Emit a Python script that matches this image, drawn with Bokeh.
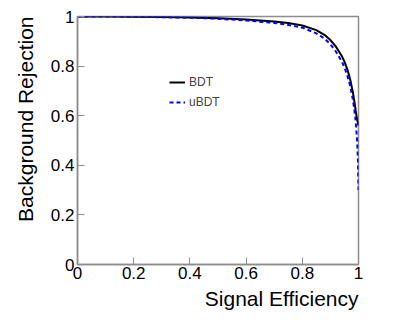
from bokeh.plotting import figure
from bokeh.models import Legend, LegendItem, Title, FixedTicker, Range1d
from bokeh.embed import file_html
from bokeh.resources import INLINE

sig_eff = [0.0, 0.1, 0.2, 0.3, 0.4, 0.5, 0.6, 0.7, 0.75, 0.8, 0.85, 0.88, 0.9, 0.92,
           0.94, 0.95, 0.96, 0.97, 0.98, 0.985, 0.99, 0.995, 0.998, 1.0]
bdt_rej = [1.0, 1.0, 0.999, 0.998, 0.996, 0.993, 0.988, 0.980, 0.974, 0.964, 0.945, 0.925,
           0.905, 0.878, 0.842, 0.818, 0.788, 0.748, 0.695, 0.66, 0.62, 0.585, 0.57, 0.56]
ubdt_rej = [1.0, 1.0, 0.999, 0.997, 0.995, 0.991, 0.984, 0.974, 0.966, 0.955, 0.932, 0.91,
            0.888, 0.858, 0.82, 0.795, 0.762, 0.722, 0.665, 0.625, 0.58, 0.50, 0.42, 0.30]
ticks = [0, 0.2, 0.4, 0.6, 0.8, 1]
tick_labels = {0: "0", 0.2: "0.2", 0.4: "0.4", 0.6: "0.6", 0.8: "0.8", 1: "1"}

FONT = "Liberation Sans"
GREY = "#8c8c8c"

p = figure(width=390, height=312, output_backend="svg", toolbar_location=None,
           x_range=Range1d(0, 1), y_range=Range1d(0, 1),
           min_border_left=73, min_border_top=16, min_border_right=32, min_border_bottom=40)
p.background_fill_color = "white"
p.border_fill_color = "white"
p.grid.visible = False
p.outline_line_color = GREY
p.outline_line_width = 1.5

for ax in (p.xaxis[0], p.yaxis[0]):
    ax.ticker = FixedTicker(ticks=ticks)
    ax.major_label_overrides = tick_labels
    ax.major_tick_in = 7
    ax.major_tick_out = 0
    ax.minor_tick_line_color = None
    ax.major_tick_line_color = GREY
    ax.axis_line_color = GREY
    ax.axis_line_width = 1.5
    ax.major_label_text_font = FONT
    ax.major_label_text_font_size = "17px"
    ax.major_label_text_color = "black"
p.xaxis.major_label_standoff = 2
p.yaxis.major_label_standoff = 3

p.add_layout(Title(text="Signal Efficiency", align="right", text_font=FONT,
                   text_font_size="21px", text_font_style="normal", text_color="black",
                   standoff=6), "below")
p.add_layout(Title(text="Background Rejection", align="right", text_font=FONT,
                   text_font_size="21px", text_font_style="normal", text_color="black",
                   standoff=22), "left")

r1 = p.line(sig_eff, bdt_rej, line_color="black", line_width=2)
r2 = p.line(sig_eff, ubdt_rej, line_color="blue", line_width=2, line_dash="4 3")

legend = Legend(items=[LegendItem(label="BDT", renderers=[r1]),
                       LegendItem(label="uBDT", renderers=[r2])],
                location=(92, 152), border_line_color=None, background_fill_alpha=0,
                label_text_font=FONT, label_text_font_size="12px",
                glyph_width=16, glyph_height=20, label_height=20, spacing=0,
                padding=0, margin=0, label_standoff=4)
p.add_layout(legend, "center")

open("out.html", "w").write(file_html(p, INLINE))
